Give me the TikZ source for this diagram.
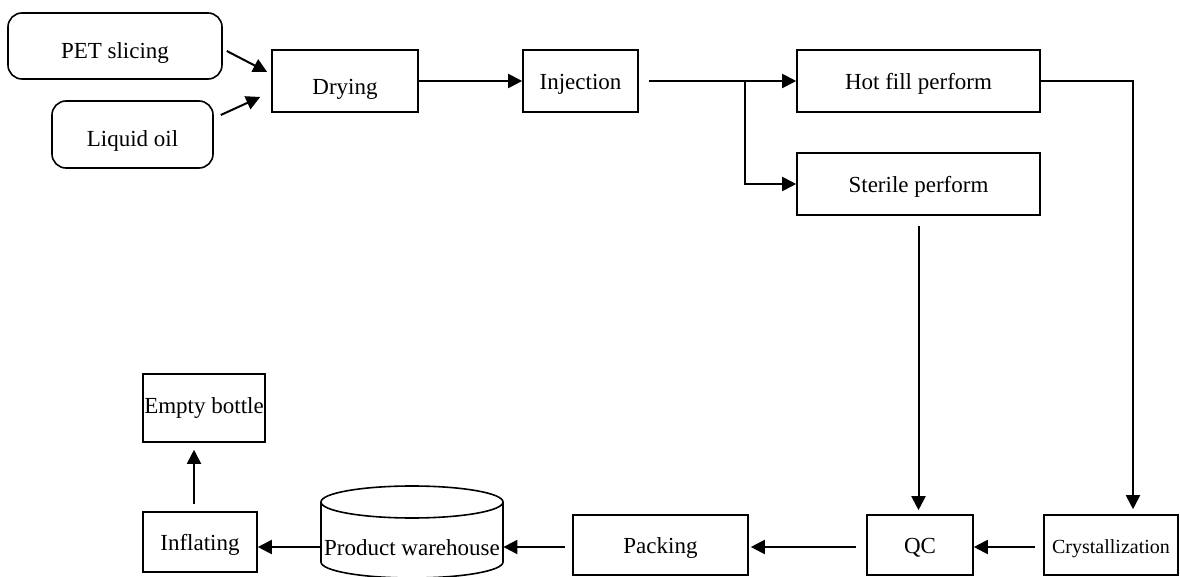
\documentclass[tikz,border=0pt]{standalone}
\usepackage{fontspec}
\setmainfont{Liberation Serif}
\usetikzlibrary{arrows.meta}
\begin{document}
\begin{tikzpicture}[x=0.5pt,y=-0.5pt,
  box/.style={draw,line width=0.8pt,rectangle,inner sep=0pt,text height=9pt,text depth=0pt,font=\fontsize{11.5}{13}\selectfont},
  rbox/.style={box,rounded corners=7pt},
  arr/.style={line width=1pt,-{Triangle[length=7pt,width=7pt]}}]
\useasboundingbox (0,0) rectangle (1180,577);
\clip (0,0) rectangle (1180,577);
\node[rbox,minimum width=107pt,minimum height=33pt,text height=13pt] (pet) at (115,46) {PET slicing};
\node[rbox,minimum width=80.5pt,minimum height=33.5pt,text height=12pt] (oil) at (132.5,134.5) {Liquid oil};
\node[box,minimum width=73pt,minimum height=31pt,text height=14pt] (dry) at (345,81) {Drying};
\node[box,minimum width=57.5pt,minimum height=31pt] (inj) at (580.5,81) {Injection};
\node[box,minimum width=121.5pt,minimum height=31pt] (hot) at (918.5,81) {Hot fill perform};
\node[box,minimum width=121.5pt,minimum height=31pt] (ster) at (918.5,184) {Sterile perform};
\node[box,minimum width=67pt,minimum height=30pt,font=\fontsize{10}{12}\selectfont] (cry) at (1111,545) {Crystallization};
\node[box,minimum width=53pt,minimum height=30pt] (qc) at (920,545) {QC};
\node[box,minimum width=87.5pt,minimum height=30pt] (pack) at (660.5,545) {Packing};
\node[box,minimum width=57pt,minimum height=30pt] (infl) at (200,542) {Inflating};
\node[box,minimum width=61pt,minimum height=34pt,text height=6pt] (empty) at (204,408) {Empty bottle};
% cylinder
\draw[line width=0.8pt] (412,502) ellipse [x radius=45.5pt, y radius=8pt];
\draw[line width=0.8pt] (321,502) -- (321,562) arc[start angle=180,end angle=360,x radius=45.5pt,y radius=8pt] -- (503,502);
\node[inner sep=0pt,minimum width=91pt,text height=9pt,text depth=0pt,font=\fontsize{11.5}{13}\selectfont] (wh) at (412,547) {Product warehouse};
% connectors
\draw[arr] ([xshift=2pt,yshift=-2.5pt]pet.east) -- ([xshift=-2pt,yshift=4.5pt]dry.west);
\draw[arr] ([xshift=3.5pt,yshift=9.75pt]oil.east) -- ([xshift=-5.5pt,yshift=-8pt]dry.west);
\draw[arr] (dry.east) -- (inj.west);
\coordinate (br) at (745,81);
\draw[arr] ([xshift=5pt]inj.east) -- (hot.west);
\draw[arr] (br) |- (ster.west);
\coordinate (c1) at (1133,81);
\draw[arr,shorten >=2.5pt] (hot.east) -- (c1) -- (c1 |- cry.north);
\draw[arr,shorten >=2pt] ([yshift=-5pt]ster.south) -- (ster.south |- qc.north);
\draw[arr] ([xshift=-4pt,yshift=-1pt]cry.west) -- ([yshift=-1pt]qc.east);
\draw[arr,shorten >=1pt] ([xshift=-5pt,yshift=-1pt]qc.west) -- ([yshift=-1pt]pack.east);
\draw[arr] ([xshift=-3.5pt]pack.west |- wh.east) -- (wh.east);
\draw[arr] (wh.west) -- (wh.west -| infl.east);
\coordinate (up) at (194,504);
\draw[arr,shorten >=3.5pt] (up) -- (up |- empty.south);
\end{tikzpicture}
\end{document}
